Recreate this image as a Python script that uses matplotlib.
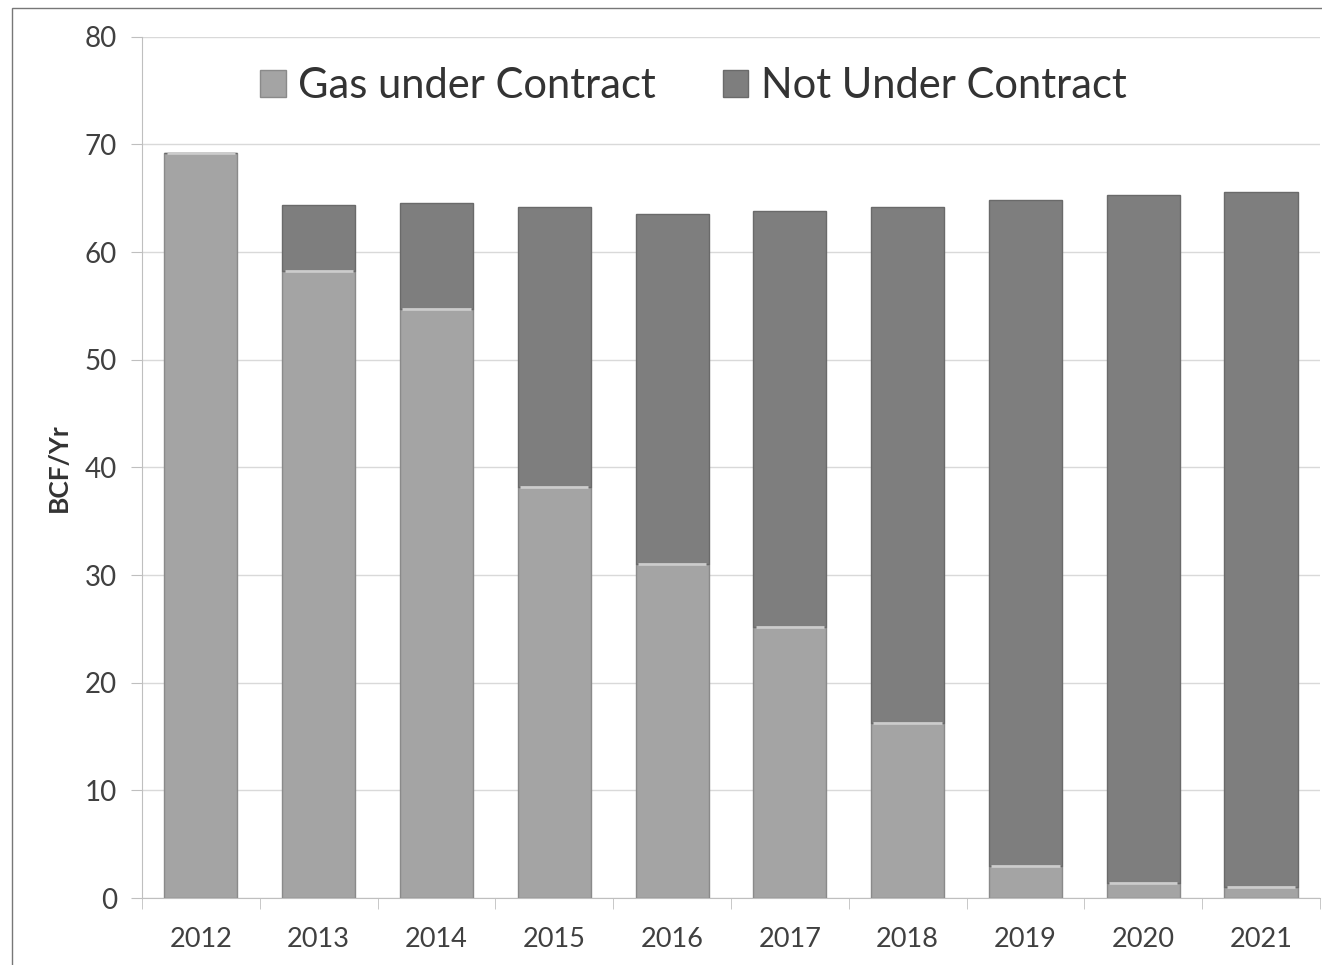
import matplotlib.pyplot as plt
import numpy as np
from matplotlib.patches import Rectangle

years = ['2012', '2013', '2014', '2015', '2016', '2017', '2018', '2019', '2020', '2021']
under_contract = [69.2, 58.2, 54.7, 38.2, 31.0, 25.2, 16.3, 3.0, 1.4, 1.0]
totals = [69.2, 64.4, 64.6, 64.2, 63.5, 63.8, 64.2, 64.8, 65.3, 65.6]
not_under = [t - u for t, u in zip(totals, under_contract)]

plt.rcParams['font.family'] = ['Lato', 'DejaVu Sans']

fig = plt.figure(figsize=(13.22, 9.65), dpi=100)
ax = fig.add_axes([0.1074, 0.0694, 0.891, 0.8925])

x = np.arange(len(years))
light = '#a4a4a4'
dark = '#7e7e7e'
ax.bar(x, under_contract, width=0.62, color=light, edgecolor='#8a8a8a', linewidth=1,
       label='Gas under Contract', zorder=3)
ax.bar(x, not_under, width=0.62, bottom=under_contract, color=dark, edgecolor='#6a6a6a',
       linewidth=1, label='Not Under Contract', zorder=3)
# bevel highlight at top of each segment
ax.hlines(under_contract, x - 0.29, x + 0.29, colors='#cccccc', linewidth=2, zorder=4)

ax.set_xlim(-0.5, 9.5)
ax.set_ylim(0, 80)
ax.set_yticks(range(0, 81, 10))
ax.set_xticks(x)
ax.set_xticklabels(years)
ax.set_xticks(np.arange(-0.5, 10, 1), minor=True)
ax.tick_params(axis='x', which='major', length=0, labelsize=19.5, colors='#404040', pad=21)
ax.tick_params(axis='x', which='minor', length=8, color='#bfbfbf')
ax.tick_params(axis='y', length=8, color='#bfbfbf', labelsize=20, labelcolor='#404040', pad=10)
ax.yaxis.grid(True, color='#d9d9d9', linewidth=1, zorder=0)

for s in ['top', 'right']:
    ax.spines[s].set_visible(False)
ax.spines['left'].set_color('#bfbfbf')
ax.spines['bottom'].set_color('#bfbfbf')

ax.set_ylabel('BCF/Yr', fontsize=19, fontweight='bold', color='#333333', labelpad=10)

ax.legend(loc='upper center', bbox_to_anchor=(0.468, 1.008), ncol=2, frameon=False,
          fontsize=30, handlelength=0.62, handleheight=0.62, columnspacing=1.6,
          handletextpad=0.3, labelcolor='#333333')

fig.patches.append(Rectangle((0.009, -0.01), 1.2, 1.002, transform=fig.transFigure,
                             fill=False, edgecolor='#777777', linewidth=1))

fig.savefig('out.png', dpi=100)
